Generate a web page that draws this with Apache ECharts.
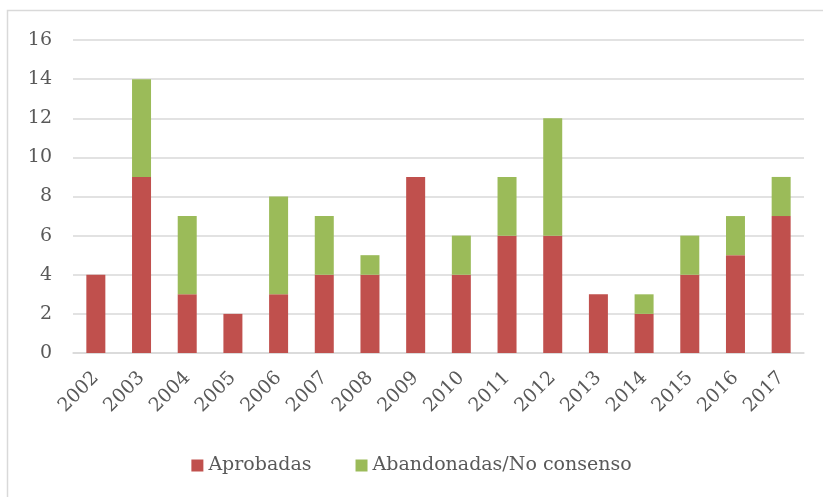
<!DOCTYPE html>
<html><head><meta charset="utf-8">
<script src="https://cdn.jsdelivr.net/npm/echarts@6/dist/echarts.min.js"></script>
<style>html,body{margin:0;padding:0;background:#fff}#c{width:823px;height:497px}</style>
</head><body><div id="c"></div>
<script>
const years = ['2002','2003','2004','2005','2006','2007','2008','2009','2010','2011','2012','2013','2014','2015','2016','2017'];
const aprobadas = [4,9,3,2,3,4,4,9,4,6,6,3,2,4,5,7];
const abandonadas = [0,5,4,0,5,3,1,0,2,3,6,0,1,2,2,2];
const yTicks = [0,2,4,6,8,10,12,14,16];
const FONT = '"DejaVu Serif", serif';
const chart = echarts.init(document.getElementById('c'));
chart.setOption({
  animation: false,
  graphic: [{type:'rect', shape:{x:7.5,y:10.5,width:830,height:500}, style:{fill:'none',stroke:'#d9d9d9',lineWidth:1.5}, silent:true}],
  grid: {left:73, right:19, top:40, bottom:144},
  legend: {bottom: 17, left:'center', itemWidth:12, itemHeight:12, itemGap:44, icon:'rect',
    textStyle:{fontFamily:FONT, fontSize:19, color:'#595959'},
    data:['Aprobadas','Abandonadas/No consenso']},
  xAxis: {type:'category', data: years,
    axisLine:{lineStyle:{color:'#d9d9d9', width:1.5}}, axisTick:{show:false},
    axisLabel:{rotate:45, fontFamily:FONT, fontSize:19, color:'#595959', margin:22, interval:0}},
  yAxis: {type:'value', min:yTicks[0], max:yTicks[yTicks.length-1], interval:2,
    axisLine:{show:false}, axisTick:{show:false},
    splitLine:{lineStyle:{color:'#d9d9d9', width:1.5}},
    axisLabel:{fontFamily:FONT, fontSize:19, color:'#595959', margin:21}},
  series: [
    {name:'Aprobadas', type:'bar', stack:'t', data: aprobadas, barWidth:19,
     itemStyle:{color:'#c0504d'}},
    {name:'Abandonadas/No consenso', type:'bar', stack:'t', data: abandonadas, barWidth:19,
     itemStyle:{color:'#9bbb59'}}
  ]
});
</script></body></html>
